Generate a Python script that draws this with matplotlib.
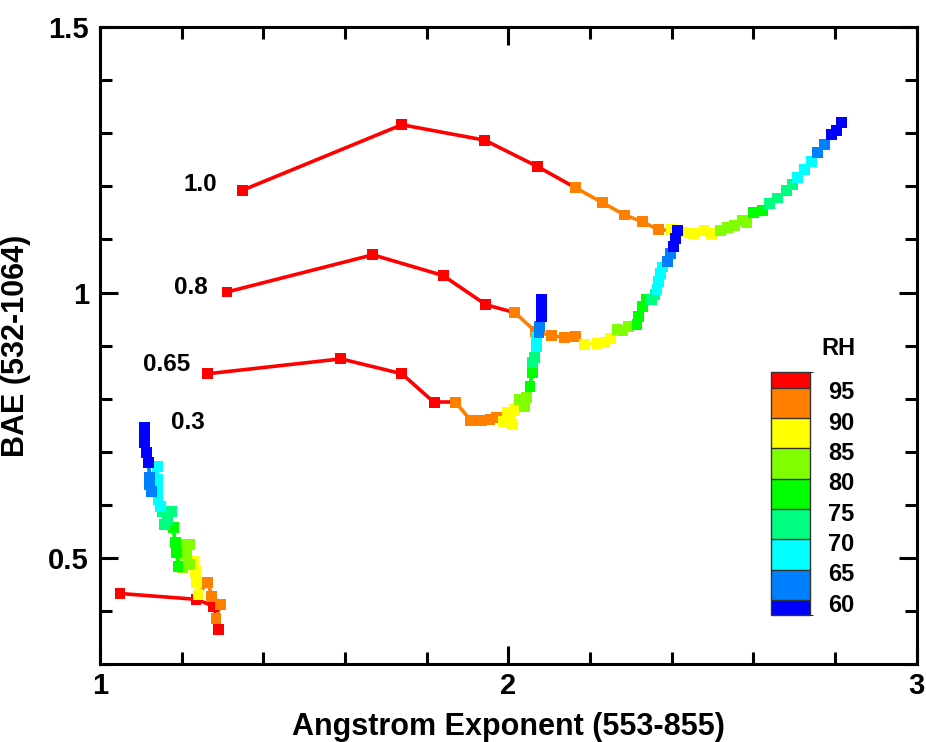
import numpy as np
import matplotlib
matplotlib.use("Agg")
import matplotlib.pyplot as plt
from matplotlib.colors import ListedColormap, BoundaryNorm
from matplotlib.collections import LineCollection
from matplotlib.cm import ScalarMappable
from matplotlib.transforms import ScaledTranslation

plt.rcParams['font.family'] = ['Liberation Sans', 'DejaVu Sans']
plt.rcParams['font.weight'] = 'bold'

# RH colour classes (60..95)
rh_bounds = [57.5, 60, 65, 70, 75, 80, 85, 90, 95, 97.5]
rh_ticks = [60, 65, 70, 75, 80, 85, 90, 95]
rh_colors = ['#0000ff', '#0080ff', '#00ffff', '#00ff80', '#00ff00',
             '#80ff00', '#ffff00', '#ff8000', '#ff0000']

# curve 1.0
ae_10 = [1.350, 1.739, 1.942, 2.072, 2.165, 2.231, 2.285, 2.329, 2.368,
         2.400, 2.430, 2.454, 2.479, 2.498, 2.520, 2.537, 2.554, 2.574, 2.584,
         2.601, 2.623, 2.640, 2.660, 2.682, 2.696, 2.709, 2.726, 2.743,
         2.758, 2.775, 2.792, 2.804, 2.816]
bae_10 = [1.193, 1.316, 1.287, 1.237, 1.197, 1.169, 1.146, 1.133, 1.118,
          1.118, 1.114, 1.112, 1.116, 1.111, 1.116, 1.122, 1.126, 1.135, 1.131,
          1.150, 1.154, 1.167, 1.178, 1.193, 1.203, 1.216, 1.231, 1.246,
          1.263, 1.278, 1.297, 1.306, 1.321]
rh_10 = [97, 96.8, 96.5, 96, 94, 93, 92, 91, 90.5,
         89, 88, 87, 86, 85.5, 84.5, 84, 83, 82, 81,
         79, 77, 74, 73, 72, 71, 69, 67, 66,
         64, 62, 59.5, 59, 58]

# curve 0.8
ae_08 = [1.311, 1.668, 1.840, 1.945, 2.016, 2.067, 2.106, 2.138, 2.165,
         2.187, 2.217, 2.236, 2.251, 2.266, 2.280, 2.295, 2.315, 2.319, 2.329,
         2.337, 2.351, 2.359, 2.364, 2.368, 2.373, 2.378, 2.390, 2.398,
         2.405, 2.410, 2.415]
bae_08 = [1.001, 1.071, 1.032, 0.977, 0.962, 0.926, 0.919, 0.915, 0.917,
          0.902, 0.904, 0.905, 0.913, 0.930, 0.928, 0.936, 0.939, 0.954, 0.973,
          0.986, 0.986, 0.996, 1.005, 1.020, 1.035, 1.048, 1.058, 1.073,
          1.086, 1.101, 1.116]
rh_08 = [97, 96.8, 96.5, 96, 94, 93, 92, 91, 90.5,
         89, 88, 87, 86, 84, 83, 82, 79, 78, 77,
         76, 74, 72, 69, 68, 67, 66, 64, 62,
         59.5, 59, 58]

# curve 0.65
ae_065 = [1.264, 1.590, 1.739, 1.818, 1.871, 1.908, 1.935, 1.955, 1.972,
          1.987, 1.999, 2.011, 2.016, 2.028, 2.040, 2.045, 2.053, 2.058,
          2.060, 2.065, 2.070, 2.070, 2.075, 2.077, 2.080, 2.082, 2.080]
bae_065 = [0.847, 0.875, 0.847, 0.793, 0.793, 0.759, 0.759, 0.761, 0.764,
           0.757, 0.774, 0.751, 0.779, 0.798, 0.785, 0.802, 0.823, 0.849,
           0.868, 0.877, 0.898, 0.915, 0.924, 0.936, 0.954, 0.973, 0.986]
rh_065 = [97, 96.8, 96.5, 96, 94, 93, 92, 91, 90.5,
          89, 88, 87, 86, 84, 83, 81, 79, 77,
          74, 72, 69, 67, 64, 62, 59.5, 59, 58]

# curve 0.3
ae_03 = [1.049, 1.235, 1.279, 1.291, 1.284, 1.296, 1.274, 1.264,
         1.240, 1.237, 1.233, 1.228, 1.220, 1.201, 1.213, 1.220, 1.201,
         1.191, 1.188, 1.184, 1.179, 1.166, 1.159, 1.176, 1.154,
         1.147, 1.142, 1.142, 1.140, 1.140, 1.127, 1.122, 1.122,
         1.118, 1.113, 1.110, 1.110, 1.110]
bae_03 = [0.433, 0.422, 0.409, 0.365, 0.386, 0.413, 0.428, 0.454,
          0.431, 0.454, 0.475, 0.493, 0.488, 0.482, 0.507, 0.525, 0.525,
          0.484, 0.510, 0.529, 0.557, 0.572, 0.563, 0.587, 0.587,
          0.597, 0.610, 0.629, 0.648, 0.672, 0.625, 0.638, 0.651,
          0.680, 0.699, 0.717, 0.736, 0.746]
rh_03 = [97, 96.5, 96, 95.5, 94, 93, 92, 91,
         89, 88, 87, 86, 84.5, 84, 83, 82, 81,
         79.5, 78, 77, 76, 74, 73, 72, 71,
         69.5, 69, 68, 67, 66, 64, 63, 62,
         59.5, 59, 58.5, 58, 57.8]

curve_names = ['1.0', '0.8', '0.65', '0.3']
label_x = [1.245, 1.223, 1.164, 1.215]
label_y = [1.203, 1.009, 0.864, 0.755]

cmap = ListedColormap(rh_colors)
norm = BoundaryNorm(rh_bounds, cmap.N)

fig = plt.figure(figsize=(9.26, 7.42), dpi=100)
ax = fig.add_axes([0.108, 0.105, 0.882, 0.8585])

curves = [(ae_10, bae_10, rh_10), (ae_08, bae_08, rh_08),
          (ae_065, bae_065, rh_065), (ae_03, bae_03, rh_03)]
for ae, bae, rh in curves:
    pts = np.column_stack([ae, bae])
    segs = np.stack([pts[:-1], pts[1:]], axis=1)
    lc = LineCollection(segs, colors=cmap(norm(np.array(rh[:-1]))), linewidths=2.6,
                        capstyle='round', zorder=2)
    ax.add_collection(lc)
    ax.scatter(ae, bae, c=rh, cmap=cmap, norm=norm, marker='s', s=62,
               edgecolors='none', zorder=3)

for name, lx, ly in zip(curve_names, label_x, label_y):
    ax.text(lx, ly, name, ha='center', va='center', fontsize=17.5, fontweight='bold')

ax.set_xlim(1, 3)
ax.set_ylim(0.3, 1.5)
ax.set_xticks([1, 2, 3])
ax.set_xticklabels(['1', '2', '3'])
ax.set_xticks(np.arange(1, 3.01, 0.2), minor=True)
ax.set_yticks([0.5, 1, 1.5])
ax.set_yticklabels(['0.5', '1', '1.5'])
ax.set_yticks(np.arange(0.3, 1.501, 0.1), minor=True)
ax.tick_params(which='both', direction='in', top=True, right=True, width=2.2,
               labelsize=21)
ax.tick_params(which='major', length=13)
ax.tick_params(which='minor', length=8.5)
ax.tick_params(axis='x', pad=6)
ax.tick_params(axis='y', pad=8)
for sp in ax.spines.values():
    sp.set_linewidth(2.2)

ax.set_xlabel('Angstrom Exponent (553-855)', fontsize=22, fontweight='bold', labelpad=8)
ax.set_ylabel('BAE (532-1064)', fontsize=22, fontweight='bold', labelpad=12)

# RH colour bar
cax = ax.inset_axes([0.821, 0.077, 0.048, 0.381])
sm = ScalarMappable(norm=norm, cmap=cmap)
cb = fig.colorbar(sm, cax=cax, spacing='proportional', ticks=rh_ticks, drawedges=True)
cb.ax.tick_params(length=0, labelsize=17, pad=13)
for lbl in cb.ax.get_yticklabels():
    lbl.set_transform(lbl.get_transform() + ScaledTranslation(0, -2 / 72, fig.dpi_scale_trans))
cb.outline.set_linewidth(1)
cb.outline.set_edgecolor('#333333')
cb.dividers.set_linewidth(1)
cb.dividers.set_color('#333333')
ax.text(2.809, 0.895, 'RH', ha='center', va='center', fontsize=17, fontweight='bold')

fig.savefig('out.png', dpi=100)
